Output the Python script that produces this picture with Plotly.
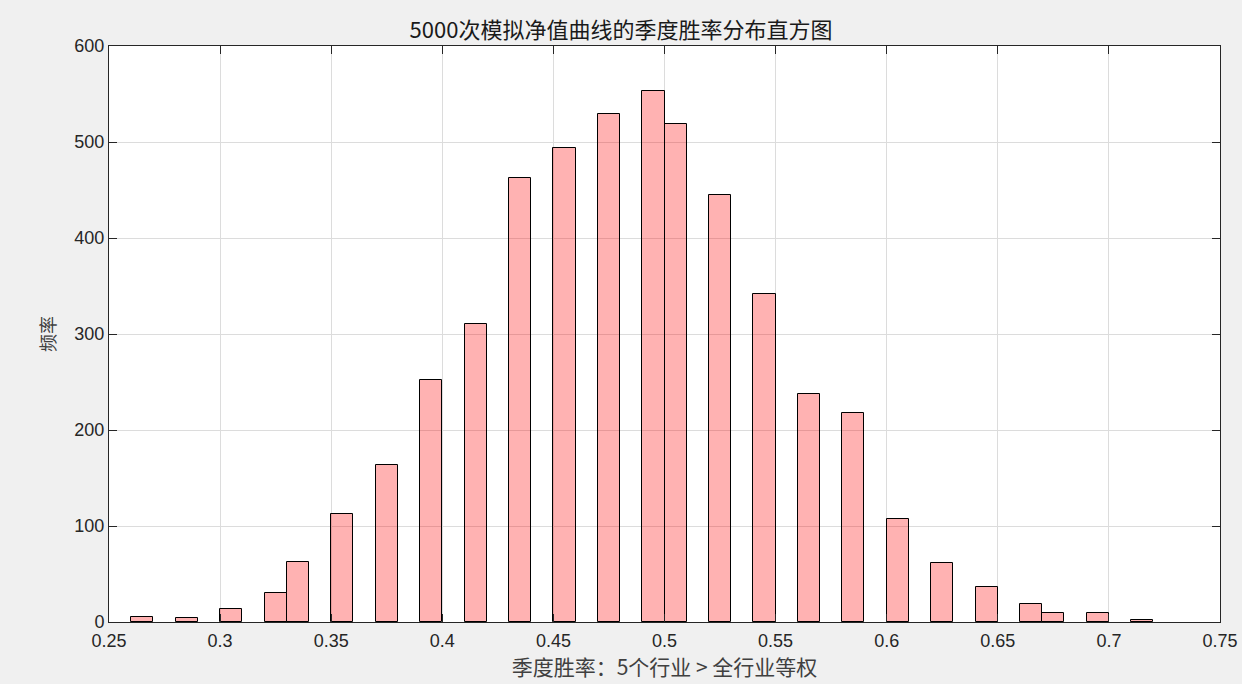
import plotly.graph_objects as go

# Bin left edges (width 0.01) and counts
bin_left = [0.26, 0.28, 0.30, 0.32, 0.33, 0.35, 0.37, 0.39, 0.41, 0.43, 0.45, 0.47,
            0.49, 0.50, 0.52, 0.54, 0.56, 0.58, 0.60, 0.62, 0.64, 0.66, 0.67, 0.69, 0.71]
counts = [5, 4, 14, 30, 62, 112, 164, 252, 310, 462, 494, 529,
          553, 519, 445, 342, 238, 218, 107, 61, 36, 19, 9, 9, 2]
bin_width = 0.01

x_ticks = [0.25, 0.3, 0.35, 0.4, 0.45, 0.5, 0.55, 0.6, 0.65, 0.7, 0.75]
x_tick_text = ["0.25", "0.3", "0.35", "0.4", "0.45", "0.5", "0.55", "0.6", "0.65", "0.7", "0.75"]
y_ticks = [0, 100, 200, 300, 400, 500, 600]

title_text = "5000次模拟净值曲线的季度胜率分布直方图"
x_label = "季度胜率：5个行业 > 全行业等权"
y_label = "频率"

centers = [b + bin_width / 2 for b in bin_left]

fig = go.Figure()
fig.add_trace(go.Bar(
    x=centers, y=counts, width=[bin_width] * len(counts),
    marker=dict(color="rgba(255,0,0,0.3)", line=dict(color="black", width=1)),
    showlegend=False,
))

axis_font = dict(family="Liberation Sans, Arial, sans-serif", size=18, color="#262626")
cjk = "Noto Sans CJK SC, sans-serif"

fig.update_layout(
    width=1242, height=684,
    paper_bgcolor="#f0f0f0", plot_bgcolor="white",
    margin=dict(l=109, r=22, t=46, b=62, autoexpand=False),
    title=dict(text=title_text, x=0.5, xanchor="center", y=1 - 30 / 684, yanchor="middle",
               font=dict(family=cjk, size=22, color="#1a1a1a")),
    bargap=0,
    xaxis=dict(
        range=[0.25, 0.75], tickvals=x_ticks, ticktext=x_tick_text,
        showgrid=True, gridcolor="#dcdcdc", gridwidth=1,
        showline=True, linecolor="#262626", linewidth=1, mirror="allticks",
        ticks="inside", ticklen=8, tickcolor="#262626",
        tickfont=axis_font, zeroline=False, ticklabelstandoff=2,
        title=dict(text=x_label, font=dict(family=cjk, size=21, color="#404040"), standoff=2),
    ),
    yaxis=dict(
        range=[0, 600], tickvals=y_ticks,
        showgrid=True, gridcolor="#dcdcdc", gridwidth=1,
        showline=True, linecolor="#262626", linewidth=1, mirror="allticks",
        ticks="inside", ticklen=8, tickcolor="#262626",
        tickfont=axis_font, zeroline=False,
        title=dict(text=y_label, font=dict(family=cjk, size=18, color="#404040"), standoff=14),
    ),
)

fig.write_html(
    "out.html",
    config={"displayModeBar": False},
    post_script="document.body.style.margin='0';document.body.style.background='#f0f0f0';",
)
